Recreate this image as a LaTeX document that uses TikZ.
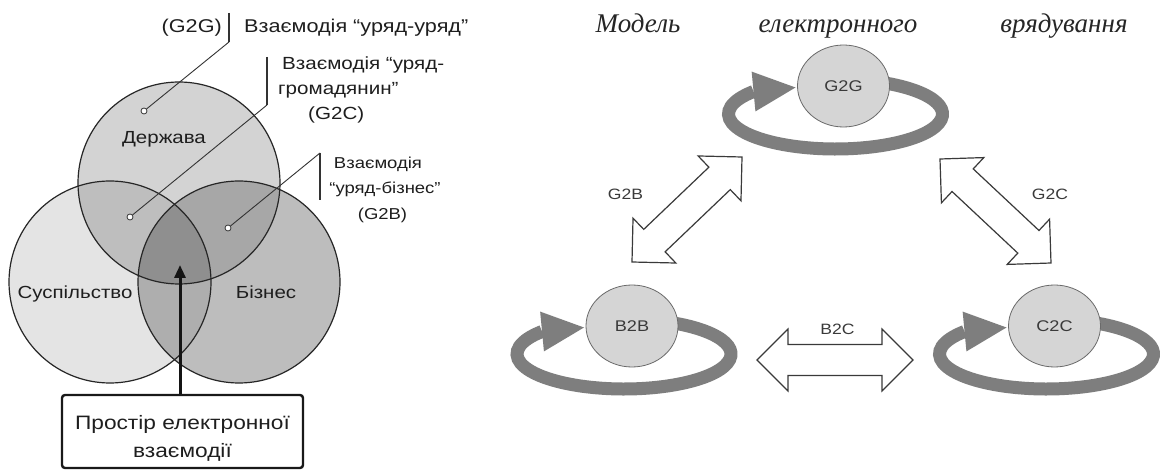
\documentclass[tikz,border=0pt]{standalone}
\usepackage{fontspec}
\setmainfont{Liberation Sans}
\newfontfamily\labelsans{Liberation Sans}[FakeStretch=1.17]
\newfontfamily\titleserif{Liberation Serif}
\usetikzlibrary{calc,shapes.geometric,arrows.meta}

% Venn fills
\definecolor{fillS}{HTML}{E4E4E4}
\definecolor{fillD}{HTML}{D3D3D3}
\definecolor{fillB}{HTML}{BDBDBD}
\definecolor{fillDS}{HTML}{BEBEBE}
\definecolor{fillDB}{HTML}{A7A7A7}
\definecolor{fillSB}{HTML}{AEAEAE}
\definecolor{fillDSB}{HTML}{8F8F8F}
\definecolor{vennline}{HTML}{262626}
\definecolor{leadcol}{HTML}{333333}
\definecolor{labeltext}{HTML}{1E1E1E}
% e-government model
\definecolor{ringgray}{HTML}{7E7E7E}
\definecolor{actfill}{HTML}{D5D5D5}
\definecolor{actline}{HTML}{6A6A6A}
\definecolor{acttext}{HTML}{3A3A3A}
\definecolor{arrline}{HTML}{3A3A3A}

% two-headed hollow arrow between two tip coordinates
\newcommand\exchangearrow[2]{%
  \draw[dblarrow] (#1) -- ($(#1)!43.84pt!45:(#2)$) -- ($(#1)!34.66pt!26.565:(#2)$)
    -- ($(#2)!34.66pt!-26.565:(#1)$) -- ($(#2)!43.84pt!-45:(#1)$) -- (#2)
    -- ($(#2)!43.84pt!45:(#1)$) -- ($(#2)!34.66pt!26.565:(#1)$)
    -- ($(#1)!34.66pt!-26.565:(#2)$) -- ($(#1)!43.84pt!-45:(#2)$) -- cycle;}

% thick elliptic self-loop round an actor, ending in a head at its left side
\newcommand\selfloop[1]{%
  \coordinate (#1-ring) at ($(#1)+(-8,28)$);
  \coordinate (#1-tip) at ($(#1)+(-48,1.5)$);
  \draw[ring] ($(#1-ring)+(-75:107 and 35)$)
    arc[start angle=-75,end angle=220,x radius=107,y radius=35] coordinate (#1-base);
  \fill[ringgray] (#1-tip) -- ($(#1-base)!20pt!90:(#1-tip)$)
    -- ($(#1-base)!20pt!-90:(#1-tip)$) -- cycle;}

\begin{document}
\begin{tikzpicture}[x=1pt,y=-1pt,
  vennedge/.style={draw=vennline,line width=1.2pt},
  lbl/.style={font={\labelsans\fontsize{18.5}{22}\selectfont},text=labeltext,inner sep=0pt},
  lblmid/.style={lbl,font={\labelsans\fontsize{17.6}{22}\selectfont}},
  lblsmall/.style={lbl,font={\labelsans\fontsize{15.8}{20}\selectfont}},
  boxtext/.style={lbl,font={\labelsans\fontsize{19.4}{24}\selectfont}},
  setname/.style={font={\labelsans\fontsize{17.5}{22}\selectfont},text=labeltext,inner sep=0pt},
  leader/.style={draw=leadcol,line width=0.9pt},
  bar/.style={draw=leadcol,line width=1.5pt},
  dot/.style={circle,draw=leadcol,fill=white,line width=0.8pt,inner sep=0pt,minimum size=6pt},
  spacebox/.style={draw=black!90,line width=2.4pt,rounded corners=3pt,fill=white,
    minimum width=241pt,minimum height=73pt,inner sep=0pt},
  actor/.style={ellipse,draw=actline,fill=actfill,line width=0.8pt,inner sep=0pt,
    minimum width=92pt,minimum height=82pt,text=acttext,
    font={\labelsans\fontsize{15.5}{18}\selectfont}},
  flowlbl/.style={text=acttext,inner sep=0pt,font={\labelsans\fontsize{15}{18}\selectfont}},
  ring/.style={draw=ringgray,line width=13pt},
  dblarrow/.style={draw=arrline,fill=white,line width=1.2pt,line join=miter},
  titleword/.style={font={\titleserif\itshape\fontsize{27}{30}\selectfont},text=black!85,inner sep=0pt}]

\useasboundingbox[fill=white] (0,0) rectangle (1160,470);

% ---------- Venn diagram ----------
\coordinate (cD) at (179,183);
\coordinate (cS) at (110,282);
\coordinate (cB) at (239,282);
\def\vr{101}

\fill[fillS] (cS) circle[radius=\vr];
\fill[fillD] (cD) circle[radius=\vr];
\fill[fillB] (cB) circle[radius=\vr];
\begin{scope}\clip (cD) circle[radius=\vr]; \fill[fillDS] (cS) circle[radius=\vr];\end{scope}
\begin{scope}\clip (cD) circle[radius=\vr]; \fill[fillDB] (cB) circle[radius=\vr];\end{scope}
\begin{scope}\clip (cS) circle[radius=\vr]; \fill[fillSB] (cB) circle[radius=\vr];\end{scope}
\begin{scope}\clip (cD) circle[radius=\vr]; \clip (cS) circle[radius=\vr];
  \fill[fillDSB] (cB) circle[radius=\vr];\end{scope}
\draw[vennedge] (cS) circle[radius=\vr];
\draw[vennedge] (cD) circle[radius=\vr];
\draw[vennedge] (cB) circle[radius=\vr];

\node[setname,anchor=base] (state) at (164,143.5) {Держава};
\node[setname,anchor=base] (society) at (75,298.5) {Суспільство};
\node[setname,anchor=base] (business) at (266,298.5) {Бізнес};

% callouts
\node[dot] (dG2G) at (144,111) {};
\node[dot] (dG2C) at (130,217) {};
\node[dot] (dG2B) at (228,228) {};

\coordinate (bar1t) at (229,13);  \coordinate (bar1b) at (229,42);
\coordinate (bar2t) at (267,57);  \coordinate (bar2b) at (267,105);
\coordinate (bar3t) at (320,153); \coordinate (bar3b) at (320,200);
\draw[bar] (bar1t) -- (bar1b);
\draw[bar] (bar2t) -- (bar2b);
\draw[bar] (bar3t) -- (bar3b);
\draw[leader] (bar1b) -- (dG2G);
\draw[leader] (bar2b) -- (dG2C);
\draw[leader] (bar3t) -- (dG2B);

\node[lbl,anchor=base east] (t1a) at (222,33) {(G2G)};
\node[lbl,anchor=base west] (t1b) at (244,33) {Взаємодія “уряд-уряд”};
\node[lblmid,anchor=base west] (t2a) at (282,70) {Взаємодія “уряд-};
\node[lblmid,anchor=base west] (t2b) at (278,95) {громадянин”};
\node[lblmid,anchor=base west] (t2c) at (308,120) {(G2C)};
\node[lblsmall,anchor=base] (t3a) at (378,168.5) {Взаємодія};
\node[lblsmall,anchor=base] (t3b) at (385,193.5) {“уряд-бізнес”};
\node[lblsmall,anchor=base] (t3c) at (382.5,219.5) {(G2B)};

% shared space
\node[spacebox] (space) at (182.5,431.5) {};
\node[boxtext,anchor=base] (spacel1) at (182.5,429) {Простір електронної};
\node[boxtext,anchor=base] (spacel2) at (182.5,457) {взаємодії};
\coordinate (core) at (180,265);
\draw[line width=3pt,draw=black!92,-{Triangle[length=13pt,width=11pt]}]
  (space.north -| core) -- (core);

% ---------- e-government model ----------
\node[titleword,anchor=base] (w1) at (638,33) {Модель};
\node[titleword,anchor=base] (w2) at (838,33) {електронного};
\node[titleword,anchor=base] (w3) at (1064,33) {врядування};

\coordinate (pG) at (843.5,86);
\coordinate (pB) at (632,326);
\coordinate (pC) at (1054.5,326);
\selfloop{pG}
\selfloop{pB}
\selfloop{pC}
\node[actor] (G2G) at (pG) {G2G};
\node[actor] (B2B) at (pB) {B2B};
\node[actor] (C2C) at (pC) {C2C};

\coordinate (gb1) at (742,157); \coordinate (gb2) at (632,262);
\coordinate (gc1) at (940,159); \coordinate (gc2) at (1051,263);
\coordinate (bc1) at (757,360); \coordinate (bc2) at (913,360);
\exchangearrow{gb1}{gb2}
\exchangearrow{gc1}{gc2}
\exchangearrow{bc1}{bc2}

\node[flowlbl,anchor=base] (lG2B) at (625.5,200) {G2B};
\node[flowlbl,anchor=base] (lG2C) at (1050,200) {G2C};
\node[flowlbl,anchor=base] (lB2C) at (837.5,335) {B2C};
\end{tikzpicture}
\end{document}
